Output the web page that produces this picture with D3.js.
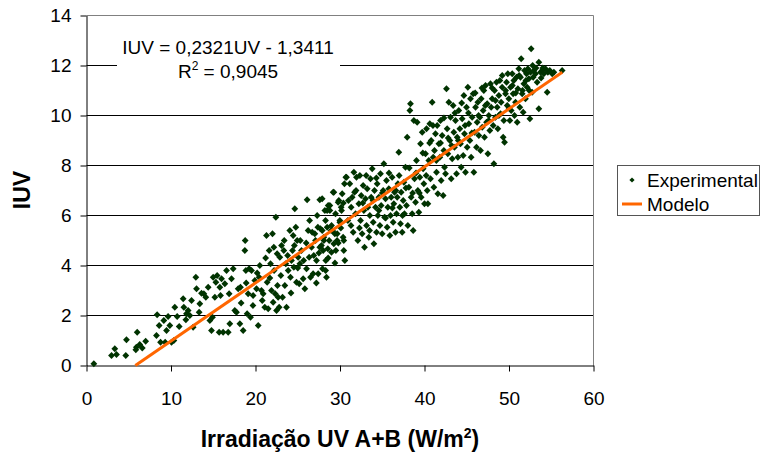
<!DOCTYPE html>
<html>
<head>
<meta charset="utf-8">
<script src="https://cdn.jsdelivr.net/npm/d3@7"></script>
<style>
  body { margin: 0; background: #fff; }
  svg { display: block; }
  text { font-family: Arial, "Liberation Sans", sans-serif; fill: #000; }
</style>
</head>
<body>
<svg id="chart" width="761" height="454"></svg>
<script>
// Axis ticks
const xTicks = [0, 10, 20, 30, 40, 50, 60];
const yTicks = [0, 2, 4, 6, 8, 10, 12, 14];

// Experimental points [UV A+B irradiance (W/m2), IUV]
const experimental = [
  [0.87,0.07],[2.96,0.4],[3.55,0.44],[3.35,0.67],[4.65,0.4],[4.73,1.03],[5.84,0.63],[6.0,1.33],[6.3,0.84],[6.6,0.7],[7.0,0.97],[5.9,0.73],
  [8.36,2.03],[8.28,1.2],[8.6,1.6],[8.76,0.93],[9.15,1.8],[9.31,0.93],[9.47,1.4],[9.66,1.96],[9.86,1.6],[10.06,0.93],[10.34,1.0],[10.45,2.33],
  [10.73,1.96],[10.97,1.56],[11.44,2.67],[11.52,2.33],[11.76,1.83],[11.83,2.07],[12.03,2.2],[12.23,2.0],[12.43,2.6],[12.62,1.53],[12.94,3.53],
  [13.02,3.07],[13.33,2.13],[13.41,2.47],[13.61,2.89],[13.89,2.87],[14.12,2.73],
  [14.40,3.13],[14.60,1.8],[14.79,1.4],[14.91,1.93],[14.99,3.53],[15.19,2.73],[15.31,3.33],[15.46,3.6],[15.70,1.33],[15.78,3.13],[15.86,2.8],
  [15.98,3.47],[16.17,1.33],[16.37,3.27],[16.57,3.8],[16.77,1.33],[16.88,2.87],[16.96,1.67],[17.16,3.47],[17.36,3.87],[17.55,2.2],[17.75,2.13],
  [17.95,3.07],[18.15,1.67],[18.22,3.13],[18.54,1.4],[18.74,4.6],[18.78,5.0],[18.86,3.8],[19.01,2.07],[19.13,2.87],[19.25,3.87],[19.41,1.93],
  [19.53,3.8],[19.72,2.8],[19.92,3.4],[20.12,3.07],[20.32,1.6],[20.43,3.53],[20.51,4.0],[20.71,3.0],[20.91,2.87],[21.10,2.33],[21.30,5.2],
  [21.38,3.33],[21.50,2.27],[21.62,4.6],[21.78,4.07],[21.89,3.0],[22.01,5.27],[22.09,2.53],[22.17,4.73],[22.33,2.87],[22.41,5.93],[22.49,2.2],
  [22.56,4.47],[22.68,2.73],[22.80,2.33],[22.88,4.33],[23.08,4.8],[23.20,2.73],[23.35,4.6],[23.47,3.2],[23.59,4.07],[23.67,2.33],[23.87,3.8],
  [24.06,5.4],[24.14,3.53],[24.26,4.2],[24.38,4.6],[24.46,5.2],[24.54,3.93],[24.65,6.27],[24.77,5.53],[24.85,3.33],[24.93,5.0],[25.05,4.33],
  [25.17,3.27],[25.25,4.07],[25.44,4.6],[25.64,3.47],[25.84,3.07],[26.04,3.87],[26.11,6.63],[26.23,5.4],[26.35,4.33],[26.51,3.53],[26.63,4.73],
  [26.82,3.67],[27.02,5.27],[27.22,4.2],[27.30,6.0],[27.42,3.67],[27.61,6.63],[27.69,5.47],[27.81,4.8],[27.93,3.87],[28.01,4.6],[28.09,5.0],
  [28.21,6.2],[28.32,4.2],[28.40,3.53],[28.48,5.53],[28.60,6.4],[28.72,5.0],[28.80,6.2],[28.99,4.53],[29.11,5.4],[29.27,6.93],[29.39,5.27],
  [29.51,4.6],[29.66,5.0],[29.78,6.53],[29.98,5.8],[30.18,6.2],[30.37,5.13],[30.45,4.6],[30.57,4.2],[30.69,7.53],
  [26.71,5.33],[27.10,5.0],[27.38,5.53],[27.61,4.73],[27.89,6.67],[28.09,5.13],[28.29,5.8],[28.48,6.2],[28.56,4.67],[28.80,6.4],[28.96,5.4],
  [29.19,6.93],[29.27,4.87],[29.47,6.07],[29.67,5.27],[29.86,6.6],[29.98,5.73],[30.14,6.33],[30.26,6.87],[30.45,5.0],[30.53,7.27],
  [18.3,2.5],[18.9,3.3],[19.7,2.4],[20.2,3.7],[20.8,2.6],[21.2,4.3],[21.7,3.5],[22.2,3.8],[22.6,3.2],[23.0,3.6],[23.4,5.0],[23.8,4.4],
  [24.2,2.9],[24.6,4.8],[25.0,3.9],[25.3,5.0],[25.7,4.2],[26.0,4.9],[26.4,5.8],[26.9,4.4],[27.2,3.3],[27.5,4.5],[27.9,5.4],[28.3,3.8],
  [28.6,4.3],[29.0,5.6],[29.4,4.1],[29.8,4.9],[30.1,5.5],[30.4,6.5],
  [30.77,7.53],[30.93,5.8],[31.16,7.27],[31.32,6.33],[31.44,6.73],[31.56,5.33],[31.64,7.73],[31.72,6.93],[31.84,6.07],[31.95,7.53],[32.11,5.0],
  [32.23,6.47],[32.35,7.6],[32.43,5.8],[32.51,6.8],[32.62,5.27],[32.74,7.2],[32.82,6.2],[32.90,4.73],[33.02,6.67],[33.14,5.6],[33.22,7.07],
  [33.30,6.33],[33.41,5.13],[33.53,6.0],[33.61,7.47],[33.69,6.73],[33.81,7.87],[33.93,5.73],[34.01,4.87],[34.08,7.0],[34.20,6.33],[34.32,5.33],
  [34.40,7.27],[34.48,6.0],[34.60,6.73],[34.72,5.6],[34.79,7.67],[34.87,6.4],[34.99,5.27],[35.11,7.0],[35.19,8.07],[35.27,5.93],[35.39,6.67],
  [35.50,7.4],[35.58,5.53],[35.66,6.33],[35.78,7.07],[35.90,5.2],[35.98,6.0],[36.06,6.73],[36.17,7.53],[36.29,5.73],[36.37,6.47],[36.45,6.93],
  [36.57,5.33],[36.69,6.07],[36.77,6.73],[36.85,7.27],[36.96,8.53],[37.08,6.33],[37.16,5.67],[37.24,6.93],[37.36,5.33],[37.48,6.6],[37.56,7.33],
  [37.63,6.07],[37.75,7.93],[37.87,6.4],[37.95,9.13],[38.03,5.6],[38.15,7.13],[38.27,10.2],[38.34,10.47],[38.42,6.73],[38.54,6.07],[38.66,5.4],
  [38.74,9.8],[38.82,7.47],[38.94,6.53],[39.05,8.2],[39.13,9.73],[39.21,7.0],[39.33,6.13],[39.45,7.53],[39.53,8.87],[39.61,6.73],[39.73,9.33],
  [39.84,7.87],[39.92,7.27],[40.00,6.47],[40.12,8.47],[40.24,9.47],[40.32,7.0],[40.40,6.47],[40.51,8.2],[40.63,9.67],[40.71,7.47],[40.79,9.0],
  [31.0,6.6],[31.3,5.6],[31.9,7.0],[32.3,5.5],[32.7,6.5],[33.1,7.6],[33.5,5.4],[33.9,6.6],[34.3,7.5],[34.6,6.2],[35.0,6.9],[35.4,5.9],
  [35.8,7.7],[36.2,6.3],[36.6,7.0],[37.0,7.6],[37.4,6.0],[37.8,7.1],[38.2,7.9],[38.6,6.9],[39.0,7.7],[39.4,6.9],[39.8,8.5],[40.2,7.6],[40.6,8.9],
  [40.91,10.53],[41.03,8.33],[41.11,7.13],[41.18,8.6],[41.30,9.27],[41.42,7.73],[41.50,9.6],[41.58,6.87],[41.70,8.87],[41.82,8.33],[41.89,9.8],
  [41.97,7.4],[42.09,9.2],[42.21,6.8],[42.29,8.6],[42.37,7.93],[42.49,7.67],[42.60,11.07],[42.68,9.47],[42.76,8.47],[42.88,10.53],[43.00,9.0],
  [43.08,9.93],[43.16,7.47],[43.28,8.27],[43.39,10.4],[43.47,9.33],[43.55,8.73],[43.67,9.8],[43.79,7.67],[43.87,9.13],[43.95,8.33],[44.06,10.2],
  [44.18,9.47],[44.26,8.87],[44.34,7.93],[44.46,9.87],[44.58,8.4],[44.66,10.8],[44.73,9.27],[44.85,7.73],[44.97,10.33],[45.05,8.73],[45.13,11.13],
  [45.25,9.67],[45.37,9.0],[45.44,10.67],[45.52,8.33],[45.64,9.93],[45.76,10.87],[45.84,7.73],[45.92,9.33],[46.04,10.33],[46.15,8.73],[46.23,9.73],
  [46.31,10.53],[46.43,9.2],[46.55,9.93],[46.63,8.6],[46.71,10.67],[46.83,9.53],[46.94,10.2],[47.02,11.0],[47.10,9.13],[47.22,11.2],[47.34,9.73],
  [47.42,10.47],[47.50,8.47],[47.61,10.0],[47.73,9.4],[47.81,11.27],[47.89,10.33],[48.01,10.67],[48.13,9.6],[48.21,8.07],[48.29,11.0],[48.40,9.93],
  [48.52,11.33],[48.60,10.33],[48.68,9.47],[48.80,10.8],[48.92,11.4],[49.00,10.07],[49.07,10.53],[49.19,11.13],[49.31,9.13],[49.39,9.8],[49.47,8.93],
  [49.59,10.87],[49.71,11.33],[49.79,10.4],[49.86,11.67],[49.98,10.67],[50.10,9.8],[50.18,11.13],[50.26,10.2],[50.38,11.67],[50.49,10.87],[50.57,11.4],
  [50.65,10.0],[50.77,10.53],[50.89,11.53],[50.97,9.73],[51.05,11.07],[51.16,11.87],[51.28,10.33],[51.36,11.53],[51.44,12.27],[51.56,10.87],[51.68,10.13],
  [51.76,11.27],[51.84,11.8],[51.95,10.67],[52.07,11.67],[52.15,11.13],[52.23,11.87],[52.35,11.47],[52.47,9.87],[52.55,11.73],[52.62,12.67],[52.74,10.93],
  [52.86,11.53],[52.94,11.8],[53.14,11.67],[53.33,11.33],[53.53,12.13],[53.53,10.27],[53.73,11.73],[53.93,11.8],[54.12,11.67],[54.32,11.87],[54.52,10.93],
  [54.60,11.73],[54.83,11.8],[55.11,11.67],[55.31,11.73],[56.29,11.8],
  [41.0,9.6],[41.4,8.2],[41.9,8.9],[42.3,9.9],[42.8,9.1],[43.2,8.8],[43.6,10.1],[44.0,9.0],[44.4,10.5],[44.8,9.6],[45.2,10.1],[45.6,9.3],
  [46.0,10.9],[46.4,10.0],[46.8,11.1],[47.2,10.4],[47.6,9.8],[48.0,11.1],[48.4,10.6],[48.8,10.0],[49.2,11.6],[49.6,11.0],[50.0,10.3],[50.4,11.2],
  [50.8,10.9],[51.2,11.6],[51.6,11.0],[52.0,11.4],[52.4,11.0],[52.8,12.0],[53.2,11.9],[53.8,11.5],[54.0,11.9]
];

// Fitted model line, end points
const modelX = [5.78, 56.3];
const modelY = [0, 11.73];

const seriesNames = ["Experimental", "Modelo"];
const equationLines = ["IUV = 0,2321UV - 1,3411", "R", "2", " = 0,9045"];

const svg = d3.select("#chart");

const x = d3.scaleLinear().domain([0, 60]).range([86.5, 593.5]);
const y = d3.scaleLinear().domain([0, 14]).range([365.5, 15.5]);

// Grid lines
svg.append("g")
  .selectAll("line")
  .data(yTicks.filter(d => d > 0 && d < 14))
  .enter().append("line")
  .attr("x1", x(0)).attr("x2", x(60))
  .attr("y1", d => y(d)).attr("y2", d => y(d))
  .attr("stroke", "#000")
  .attr("stroke-width", 1);

// Plot border top / right (gray)
svg.append("path")
  .attr("d", `M${x(0)},${y(14)}H${x(60)}V${y(0)}`)
  .attr("fill", "none")
  .attr("stroke", "#808080");

// Axes
const yAxis = svg.append("g")
  .attr("transform", `translate(${x(0)},0)`)
  .call(d3.axisLeft(y).tickValues(yTicks).tickSize(6).tickSizeOuter(0).tickPadding(9));

const xAxis = svg.append("g")
  .attr("transform", `translate(0,${y(0)})`)
  .call(d3.axisBottom(x).tickValues(xTicks).tickSize(6).tickSizeOuter(0).tickPadding(20));

[xAxis, yAxis].forEach(a => {
  a.select(".domain").attr("stroke", "#000");
  a.selectAll(".tick line").attr("stroke", "#000");
  a.selectAll(".tick text")
    .style("font-family", "Arial, 'Liberation Sans', sans-serif")
    .style("font-size", "19px")
    .attr("fill", "#000");
});

// Equation box
svg.append("rect")
  .attr("x", 117).attr("y", 32)
  .attr("width", 223).attr("height", 56)
  .attr("fill", "#fff");

svg.append("text")
  .attr("x", 228).attr("y", 54)
  .attr("text-anchor", "middle")
  .style("font-size", "19px")
  .text(equationLines[0]);

const r2 = svg.append("text")
  .attr("x", 228).attr("y", 78)
  .attr("text-anchor", "middle")
  .style("font-size", "19px");
r2.append("tspan").text(equationLines[1]);
r2.append("tspan").attr("dy", -8).style("font-size", "12px").text(equationLines[2]);
r2.append("tspan").attr("dy", 8).text(equationLines[3]);

// Diamond marker
const diamond = (s) => `M0,${-s}L${s},0L0,${s}L${-s},0Z`;

svg.append("g")
  .selectAll("path")
  .data(experimental)
  .enter().append("path")
  .attr("d", diamond(3.4))
  .attr("transform", d => `translate(${x(d[0])},${y(d[1])})`)
  .attr("fill", "#003300");

// Model line
const line = d3.line()
  .x(d => x(d[0]))
  .y(d => y(d[1]));

svg.append("path")
  .datum(modelX.map((v, i) => [v, modelY[i]]))
  .attr("d", line)
  .attr("fill", "none")
  .attr("stroke", "#FF6600")
  .attr("stroke-width", 3);

// Axis titles
svg.append("text")
  .attr("x", 340).attr("y", 447)
  .attr("text-anchor", "middle")
  .style("font-size", "23px")
  .style("font-weight", "bold")
  .call(t => {
    t.append("tspan").text("Irradiação UV A+B (W/m");
    t.append("tspan").attr("dy", -9).style("font-size", "14px").text("2");
    t.append("tspan").attr("dy", 9).text(")");
  });

svg.append("text")
  .attr("transform", "translate(30,190) rotate(-90)")
  .attr("text-anchor", "middle")
  .style("font-size", "23px")
  .style("font-weight", "bold")
  .text("IUV");

// Legend
const legend = svg.append("g");
legend.append("rect")
  .attr("x", 617.5).attr("y", 165.5)
  .attr("width", 142).attr("height", 50)
  .attr("fill", "#fff")
  .attr("stroke", "#555");

legend.append("path")
  .attr("d", diamond(2.6))
  .attr("transform", "translate(632,180)")
  .attr("fill", "#003300");
legend.append("text")
  .attr("x", 647).attr("y", 187)
  .style("font-size", "19px")
  .text(seriesNames[0]);

legend.append("line")
  .attr("x1", 622).attr("x2", 642)
  .attr("y1", 204).attr("y2", 204)
  .attr("stroke", "#FF6600")
  .attr("stroke-width", 3);
legend.append("text")
  .attr("x", 647).attr("y", 211)
  .style("font-size", "19px")
  .text(seriesNames[1]);
</script>
</body>
</html>
